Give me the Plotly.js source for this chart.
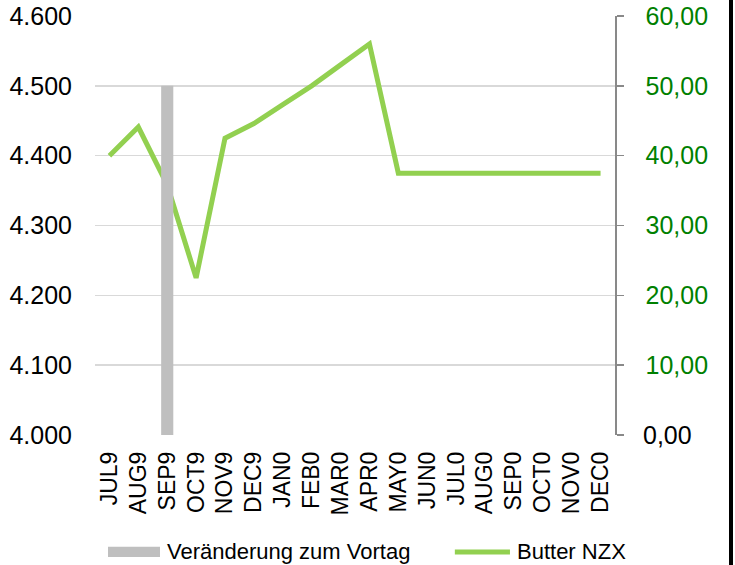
<!DOCTYPE html>
<html><head><meta charset="utf-8">
<script src="https://cdn.plot.ly/plotly-3.0.1.min.js"></script>
<style>html,body{margin:0;padding:0;background:#fff;overflow:hidden}#c{width:735px;height:565px}#edge{position:absolute;left:729px;top:0;width:4px;height:565px;background:#000}</style>
</head><body><div id="c"></div><div id="edge"></div>
<script>
var months = ["JUL9","AUG9","SEP9","OCT9","NOV9","DEC9","JAN0","FEB0","MAR0","APR0","MAY0","JUN0","JUL0","AUG0","SEP0","OCT0","NOV0","DEC0"];
var butterNZX = [4400,4441,4358,4225,4425,4446,4473,4500,4530,4560,4375,4375,4375,4375,4375,4375,4375,4375];
var changeMonths = ["SEP9"];
var changeValues = [50];
var leftTicks = [4000,4100,4200,4300,4400,4500,4600];
var rightTicks = [0,10,20,30,40,50,60];
var rightTickText = ["","10,00","20,00","30,00","40,00","50,00","60,00"];
var legendNames = ["Veränderung zum Vortag","Butter NZX"];

var barColor = "#bfbfbf", lineColor = "#92d050";
var traces = [
  {type:"bar", name:legendNames[0], x:changeMonths, y:changeValues, yaxis:"y2",
   marker:{color:barColor}, width:0.42, showlegend:false},
  {type:"scatter", mode:"lines", name:legendNames[1], x:months, y:butterNZX, yaxis:"y",
   line:{color:lineColor, width:5}, showlegend:false}
];
var ff = "Liberation Sans, Arial, sans-serif";
var layout = {
  width:735, height:565,
  margin:{l:95, r:120, t:16, b:130},
  paper_bgcolor:"#fff", plot_bgcolor:"#fff",
  separators:",.",
  font:{family:ff, size:24, color:"#000"},
  showlegend:false,
  xaxis:{type:"category", categoryorder:"array", categoryarray:months, range:[-0.5,17.5],
         tickmode:"array", tickvals:months, ticktext:months,
         tickangle:-90, tickfont:{size:23}, showgrid:false, showline:false, zeroline:false,
         ticks:"", ticklabelstandoff:11},
  yaxis:{range:[4000,4600], tickvals:leftTicks, tickformat:",.0f", showline:false,
         gridcolor:"#d9d9d9", gridwidth:1.5, zeroline:false, ticks:"", ticklabelstandoff:22,
         tickfont:{size:25}},
  yaxis2:{overlaying:"y", side:"right", range:[0,60], tickvals:rightTicks, ticktext:rightTickText,
          showgrid:false, zeroline:false, showline:true, linecolor:"#898989", linewidth:1.5,
          ticks:"outside", ticklen:7, tickcolor:"#898989", tickwidth:1.5, ticklabelstandoff:17,
          tickfont:{size:25, color:"#008000"}},
  shapes:[
    {type:"rect", xref:"paper", yref:"paper", x0:0.025, x1:0.125, y0:-0.291, y1:-0.267,
     fillcolor:barColor, line:{width:0}},
    {type:"line", xref:"paper", yref:"paper", x0:0.692, x1:0.798, y0:-0.279, y1:-0.279,
     line:{color:lineColor, width:5}}
  ],
  annotations:[
    {xref:"paper", yref:"y2", x:1, y:0, xanchor:"left", yanchor:"middle", xshift:26,
     text:"0,00", showarrow:false, font:{size:25, color:"#000"}},
    {xref:"paper", yref:"paper", x:0.1346, y:-0.279, xanchor:"left", yanchor:"middle",
     text:legendNames[0], showarrow:false, font:{size:22, color:"#000"}},
    {xref:"paper", yref:"paper", x:0.8077, y:-0.279, xanchor:"left", yanchor:"middle",
     text:legendNames[1], showarrow:false, font:{size:22, color:"#000"}}
  ],
  bargap:0.6
};
Plotly.newPlot("c", traces, layout, {displayModeBar:false, staticPlot:true});
</script></body></html>
